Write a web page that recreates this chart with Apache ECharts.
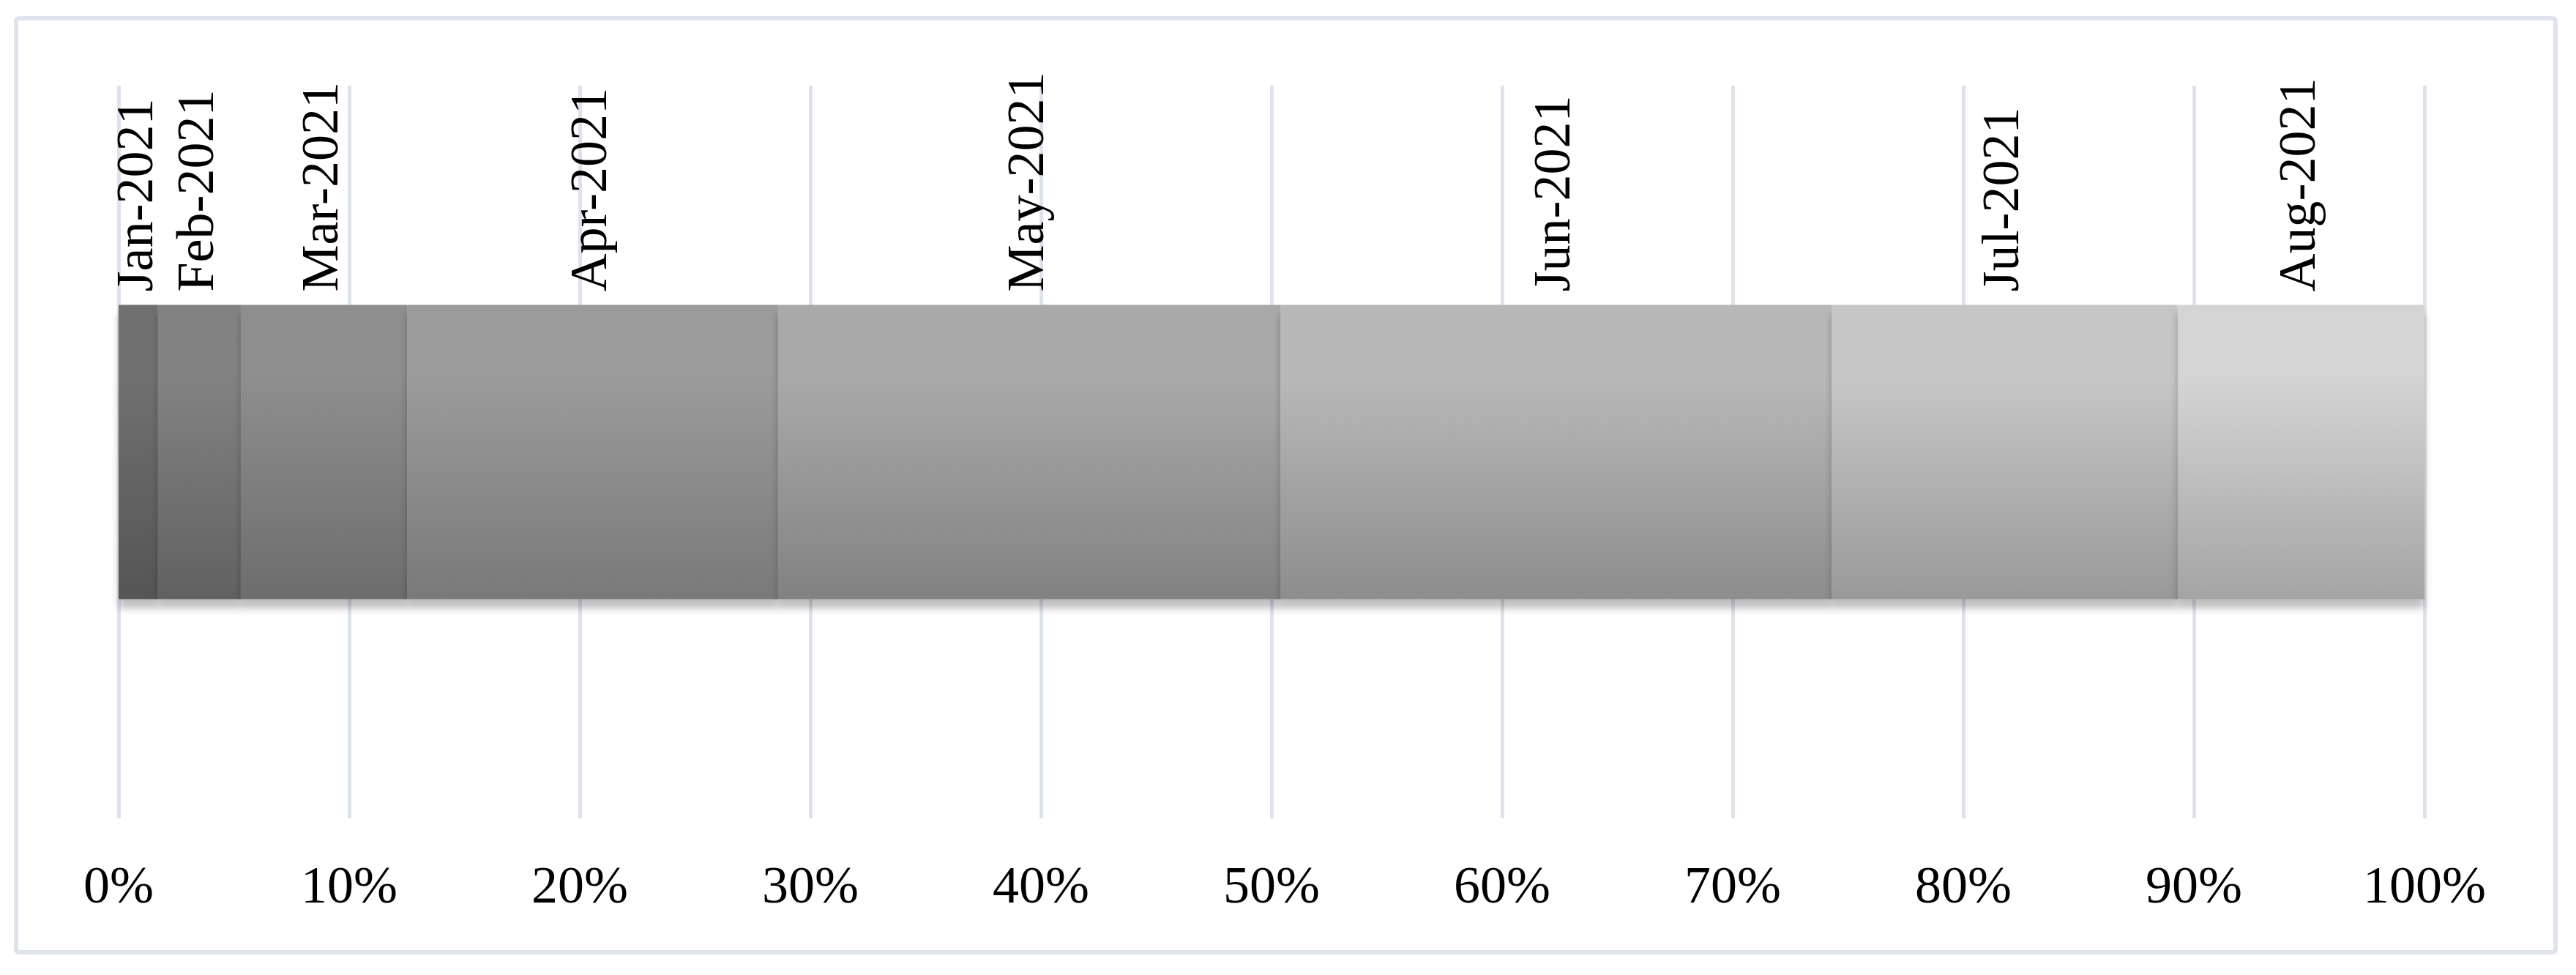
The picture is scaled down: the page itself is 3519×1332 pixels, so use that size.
<!DOCTYPE html>
<html>
<head>
<meta charset="utf-8">
<script src="https://cdn.jsdelivr.net/npm/echarts@6/dist/echarts.min.js"></script>
<style>
  html, body { margin: 0; padding: 0; background: #fff; }
  #chart { width: 3519px; height: 1332px; }
</style>
</head>
<body>
<div id="chart"></div>
<script>
// share of each month in the total (%)
const months = ['Jan-2021', 'Feb-2021', 'Mar-2021', 'Apr-2021', 'May-2021', 'Jun-2021', 'Jul-2021', 'Aug-2021']
const shares = [1.71, 3.59, 7.21, 16.09, 21.78, 23.91, 15.01, 10.70]
const xTicks = [0, 10, 20, 30, 40, 50, 60, 70, 80, 90, 100]

// top / bottom grey of each segment gradient
const topColors = ['#707070', '#828282', '#8e8e8e', '#9b9b9b', '#a9a9a9', '#b8b8b8', '#c6c6c6', '#d4d4d4']
const bottomColors = ['#555555', '#616161', '#6d6d6d', '#797979', '#828282', '#8d8d8d', '#999999', '#a4a4a4']

const font = 'Liberation Serif, Times New Roman, serif'

const chart = echarts.init(document.getElementById('chart'))

const series = months.map((name, i) => ({
  name: name,
  type: 'bar',
  stack: 'total',
  barWidth: 402,
  data: [shares[i]],
  itemStyle: {
    color: new echarts.graphic.LinearGradient(0, 0, 0, 1, [
      { offset: 0, color: topColors[i] },
      { offset: 0.25, color: topColors[i] },
      { offset: 1, color: bottomColors[i] }
    ]),
    shadowColor: 'rgba(0, 0, 0, 0.25)',
    shadowBlur: 10,
    shadowOffsetY: 12
  },
  label: {
    show: true,
    position: 'top',
    rotate: 90,
    align: 'left',
    verticalAlign: 'middle',
    distance: 18,
    formatter: '{a}',
    color: '#000',
    fontFamily: font,
    fontSize: 72
  },
  emphasis: { disabled: true }
}))

chart.setOption({
  backgroundColor: '#fff',
  animation: false,
  graphic: [{
    type: 'rect',
    shape: { x: 22, y: 25, width: 3469, height: 1276, r: 4 },
    style: { fill: 'none', stroke: '#dfe4ec', lineWidth: 6 },
    z: -10
  }],
  grid: { left: 162, right: 207, top: 117, bottom: 214 },
  xAxis: {
    type: 'value',
    min: xTicks[0],
    max: xTicks[xTicks.length - 1],
    interval: xTicks[1] - xTicks[0],
    axisLine: { show: false },
    axisTick: { show: false },
    axisLabel: {
      formatter: '{value}%',
      color: '#000',
      fontFamily: font,
      fontSize: 72,
      margin: 60
    },
    splitLine: { lineStyle: { color: '#dee3eb', width: 5 } }
  },
  yAxis: {
    type: 'category',
    data: [''],
    show: false
  },
  series: series
})
</script>
</body>
</html>
